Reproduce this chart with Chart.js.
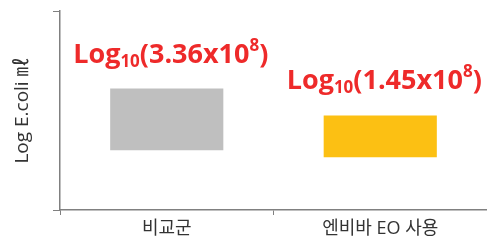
<!DOCTYPE html>
<html>
<head>
<meta charset="utf-8">
<script src="https://cdn.jsdelivr.net/npm/chart.js@4"></script>
<style>
  html, body { margin: 0; padding: 0; background: #fff; }
  #wrap { width: 487px; height: 247px; }
</style>
</head>
<body>
<div id="wrap"><canvas id="c"></canvas></div>
<script>
// data
const categories = ['비교군', '엔비바 EO 사용'];
const barLow = [3.0, 2.65];
const barHigh = [6.1, 4.75];
const countBase = ['3.36', '1.45'];   // Log10(N x10^8)
const countExp = ['8', '8'];
const barColors = ['#BFBFBF', '#FCC013'];
const yTitle = 'Log E.coli ㎖';

const axisColor = '#808080';
const fontFamily = '"Open Sans", "Noto Sans CJK KR", sans-serif';

// red Log10(...) labels over each bar, with sub/superscripts, plus y title
const logLabels = {
  id: 'logLabels',
  afterDatasetsDraw(chart) {
    const ctx = chart.ctx;
    const meta = chart.getDatasetMeta(0);
    ctx.save();
    ctx.fillStyle = '#EE2A2A';
    ctx.textBaseline = 'alphabetic';
    meta.data.forEach((bar, i) => {
      const big = 'bold 27px ' + fontFamily;
      const small = 'bold 17px ' + fontFamily;
      const parts = [
        { t: 'Log', f: big, dy: 0 },
        { t: '10', f: small, dy: 4 },
        { t: '(' + countBase[i] + 'x10', f: big, dy: 0 },
        { t: countExp[i], f: small, dy: -12 },
        { t: ')', f: big, dy: 0 }
      ];
      let w = 0;
      parts.forEach(p => { ctx.font = p.f; p.w = ctx.measureText(p.t).width; w += p.w; });
      let x = bar.x - w / 2 + 4;
      const y = bar.y - 26;
      parts.forEach(p => {
        ctx.font = p.f;
        ctx.fillText(p.t, x, y + p.dy);
        x += p.w;
      });
    });
    // y axis title
    const area = chart.chartArea;
    ctx.translate(23, (area.top + area.bottom) / 2);
    ctx.rotate(-Math.PI / 2);
    ctx.fillStyle = '#333';
    ctx.font = '19px ' + fontFamily;
    ctx.textAlign = 'center';
    ctx.textBaseline = 'middle';
    ctx.fillText(yTitle, 0, 0);
    ctx.restore();
  }
};

new Chart(document.getElementById('c'), {
  type: 'bar',
  data: {
    labels: categories,
    datasets: [{
      data: categories.map((_, i) => [barLow[i], barHigh[i]]),
      backgroundColor: barColors,
      borderWidth: 0,
      categoryPercentage: 1,
      barPercentage: 0.53
    }]
  },
  options: {
    responsive: true,
    maintainAspectRatio: false,
    animation: false,
    layout: { padding: { top: 11, right: 0, left: 0, bottom: 0 } },
    plugins: { legend: { display: false }, tooltip: { enabled: false } },
    scales: {
      x: {
        offset: true,
        grid: {
          offset: true,
          drawOnChartArea: false,
          drawTicks: true,
          tickLength: 5,
          color: axisColor
        },
        border: { color: axisColor, width: 1.5 },
        ticks: {
          color: '#333',
          padding: 3,
          font: { family: fontFamily, size: 18 }
        },
        afterFit(scale) { scale.height = 37; }
      },
      y: {
        min: 0,
        max: 10,
        grid: {
          drawOnChartArea: false,
          drawTicks: true,
          tickLength: 7,
          color: axisColor
        },
        border: { color: axisColor, width: 1.5 },
        ticks: { stepSize: 10, callback: () => '' },
        afterFit(scale) { scale.width = 60; }
      }
    }
  },
  plugins: [logLabels]
});
</script>
</body>
</html>
